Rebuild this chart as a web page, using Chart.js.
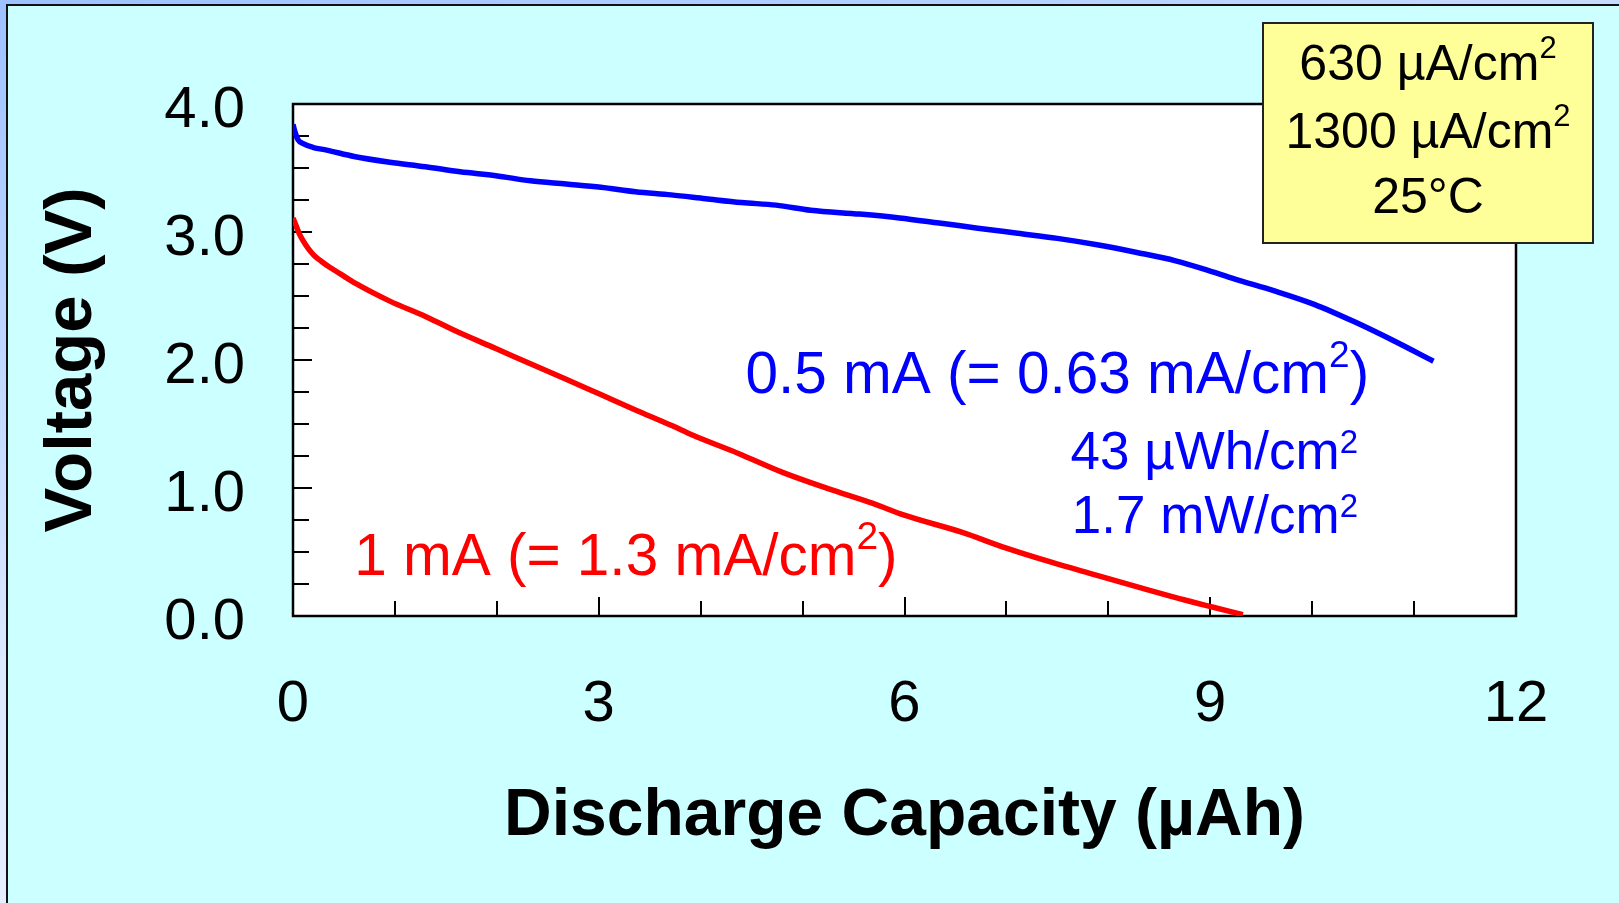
<!DOCTYPE html>
<html>
<head>
<meta charset="utf-8">
<script src="https://cdn.jsdelivr.net/npm/chart.js@4.4.1/dist/chart.umd.min.js"></script>
<style>
html, body { margin:0; padding:0; width:1619px; height:903px; overflow:hidden; }
body { position:relative; background:linear-gradient(165deg, #9ec2ff 0%, #dce8ff 50%, #f8faff 100%); }
#panel { position:absolute; left:6px; top:4px; width:1700px; height:1000px; background:#ccffff; border-left:2px solid #111; border-top:2px solid #111; }
#c { position:absolute; left:0; top:0; }
</style>
</head>
<body>
<div id="panel"></div>
<canvas id="c" width="1619" height="903"></canvas>
<script>
// ============ discharge curves ============
// 0.5 mA (0.63 mA/cm2)
const blueCap  = [0, 0.02, 0.05, 0.10, 0.20, 0.33, 0.60, 0.95, 1.30, 1.64, 1.99, 2.33, 2.68, 3.02, 3.36, 3.71, 4.05, 4.40, 4.74, 5.08, 5.56, 5.95, 6.34, 6.72, 7.11, 7.50, 7.89, 8.28, 8.66, 8.94, 9.25, 9.63, 10.02, 10.41, 10.80, 11.19];
const blueVolt = [3.84, 3.78, 3.72, 3.69, 3.66, 3.64, 3.59, 3.545, 3.51, 3.47, 3.44, 3.40, 3.375, 3.35, 3.315, 3.29, 3.26, 3.23, 3.21, 3.17, 3.14, 3.11, 3.07, 3.03, 2.99, 2.95, 2.90, 2.84, 2.775, 2.71, 2.63, 2.54, 2.435, 2.30, 2.15, 1.99];
// 1 mA (1.3 mA/cm2)
const redCap  = [0, 0.03, 0.06, 0.10, 0.15, 0.21, 0.28, 0.36, 0.46, 0.61, 0.95, 1.30, 1.64, 1.99, 2.33, 2.68, 3.02, 3.36, 3.71, 3.93, 4.37, 4.81, 5.25, 5.69, 5.99, 6.56, 7.00, 7.44, 7.88, 8.32, 8.75, 9.02, 9.32];
const redVolt = [3.11, 3.05, 2.99, 2.93, 2.87, 2.815, 2.77, 2.725, 2.675, 2.60, 2.46, 2.34, 2.21, 2.09, 1.97, 1.85, 1.73, 1.61, 1.49, 1.41, 1.27, 1.12, 0.995, 0.88, 0.79, 0.655, 0.53, 0.42, 0.32, 0.22, 0.125, 0.07, 0.01];

const xLabels = [0, 3, 6, 9, 12];
const yLabels = [0, 1, 2, 3, 4];

const FAM = "'Liberation Sans', Arial, sans-serif";
Chart.defaults.font.family = FAM;
Chart.defaults.color = '#000';

// text runs: [text, isSuperscript]
function drawRuns(ctx, runs, x, y, size, color, align, supScale = 0.62, supRise = 0.45) {
  const supSize = Math.round(size * supScale), rise = size * supRise;
  ctx.fillStyle = color;
  ctx.textBaseline = 'alphabetic';
  ctx.textAlign = 'left';
  const widths = runs.map(r => { ctx.font = (r[1] ? supSize : size) + 'px ' + FAM; return ctx.measureText(r[0]).width; });
  const total = widths.reduce((a, b) => a + b, 0);
  let cx = align === 'right' ? x - total : align === 'center' ? x - total / 2 : x;
  runs.forEach((r, i) => {
    ctx.font = (r[1] ? supSize : size) + 'px ' + FAM;
    ctx.fillText(r[0], cx, r[1] ? y - rise : y);
    cx += widths[i];
  });
}

const framePlugin = {
  id: 'frame',
  beforeDatasetsDraw(chart) {
    const {ctx, chartArea: a, scales: {x, y}} = chart;
    ctx.save();
    ctx.fillStyle = '#fff';
    ctx.fillRect(a.left, a.top, a.width, a.height);
    ctx.strokeStyle = '#000';
    ctx.lineWidth = 2;
    ctx.beginPath();
    y.ticks.forEach(t => {
      const py = Math.round(y.getPixelForValue(t.value));
      const len = Number.isInteger(t.value) ? 19 : 16;
      ctx.moveTo(a.left, py); ctx.lineTo(a.left + len, py);
    });
    x.ticks.forEach(t => {
      const px = Math.round(x.getPixelForValue(t.value));
      const len = t.value % 3 === 0 ? 19 : 15;
      ctx.moveTo(px, a.bottom); ctx.lineTo(px, a.bottom - len);
    });
    ctx.stroke();
    ctx.lineWidth = 2.5;
    ctx.strokeRect(a.left, a.top, a.width, a.height);

    // voltage tick labels
    ctx.fillStyle = '#000';
    ctx.font = '58px ' + FAM;
    ctx.textAlign = 'right';
    ctx.textBaseline = 'alphabetic';
    y.ticks.forEach(t => {
      if (yLabels.includes(t.value)) ctx.fillText(t.value.toFixed(1), a.left - 48, y.getPixelForValue(t.value) + 23);
    });
    ctx.restore();
  }
};

const notesPlugin = {
  id: 'notes',
  afterDraw(chart) {
    const {ctx, scales: {x, y}} = chart;
    ctx.save();
    drawRuns(ctx, [['0.5 mA (= 0.63 mA/cm', 0], ['2', 1], [')', 0]], x.getPixelForValue(4.44), y.getPixelForValue(1.742), 58.5, '#0000ff', 'left', 0.64, 0.45);
    drawRuns(ctx, [['43 µWh/cm', 0], ['2', 1]], x.getPixelForValue(10.45), y.getPixelForValue(1.148), 53, '#0000ff', 'right', 0.62, 0.3);
    drawRuns(ctx, [['1.7 mW/cm', 0], ['2', 1]], x.getPixelForValue(10.45), y.getPixelForValue(0.648), 53, '#0000ff', 'right', 0.62, 0.3);
    drawRuns(ctx, [['1 mA (= 1.3 mA/cm', 0], ['2', 1], [')', 0]], x.getPixelForValue(0.6), y.getPixelForValue(0.32), 58.5, '#ff0000', 'left', 0.66, 0.45);

    // conditions box
    ctx.fillStyle = '#ffff99';
    ctx.fillRect(1263, 23, 330, 220);
    ctx.strokeStyle = '#222';
    ctx.lineWidth = 2;
    ctx.strokeRect(1263, 23, 330, 220);
    drawRuns(ctx, [['630 µA/cm', 0], ['2', 1]], 1428, 80, 50, '#000', 'center');
    drawRuns(ctx, [['1300 µA/cm', 0], ['2', 1]], 1428, 148, 50, '#000', 'center');
    drawRuns(ctx, [['25°C', 0]], 1428, 213, 50, '#000', 'center');
    ctx.restore();
  }
};

new Chart(document.getElementById('c'), {
  type: 'scatter',
  data: {
    datasets: [
      {label: '0.5 mA', data: blueCap.map((c, i) => ({x: c, y: blueVolt[i]})), showLine: true, borderColor: '#0000ff', borderWidth: 5.5, pointRadius: 0, cubicInterpolationMode: 'monotone'},
      {label: '1 mA', data: redCap.map((c, i) => ({x: c, y: redVolt[i]})), showLine: true, borderColor: '#ff0000', borderWidth: 5.5, pointRadius: 0, cubicInterpolationMode: 'monotone'}
    ]
  },
  options: {
    responsive: false, animation: false, devicePixelRatio: 1,
    layout: {padding: {left: 0, top: 104, right: 103, bottom: 0}},
    plugins: {legend: {display: false}, tooltip: {enabled: false}},
    scales: {
      x: {
        type: 'linear', min: 0, max: 12,
        afterFit(s) { s.height = 287; },
        ticks: {stepSize: 1, autoSkip: false, maxRotation: 0, padding: 54, font: {size: 58},
                callback: v => xLabels.includes(v) ? String(v) : ''},
        grid: {display: false, drawTicks: false}, border: {display: false},
        title: {display: true, text: 'Discharge Capacity (µAh)', font: {size: 66, weight: 'bold'}, padding: {top: 0, bottom: 47}}
      },
      y: {
        min: 0, max: 4,
        afterFit(s) { s.width = 293; },
        ticks: {display: false, stepSize: 0.25, autoSkip: false},
        grid: {display: false, drawTicks: false}, border: {display: false},
        title: {display: true, text: 'Voltage (V)', font: {size: 67, weight: 'bold'}, padding: {top: 32, bottom: 0}}
      }
    }
  },
  plugins: [framePlugin, notesPlugin]
});
</script>
</body>
</html>
